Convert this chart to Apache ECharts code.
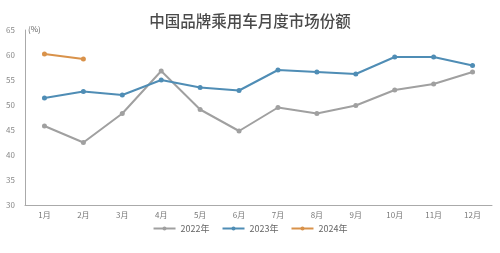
<!DOCTYPE html>
<html><head><meta charset="utf-8">
<script src="https://cdn.jsdelivr.net/npm/echarts@6/dist/echarts.min.js"></script>
<style>html,body{margin:0;padding:0;background:#fff}#c{width:500px;height:253px}</style>
</head><body><div id="c"></div>
<script>
const title = '中国品牌乘用车月度市场份额';
const months = ['1月','2月','3月','4月','5月','6月','7月','8月','9月','10月','11月','12月'];
const s2022 = [45.8,42.5,48.3,56.8,49.1,44.8,49.5,48.3,49.9,53.0,54.2,56.6];
const s2023 = [51.4,52.7,52.0,55.0,53.5,52.9,57.0,56.6,56.2,59.6,59.6,57.9];
const s2024 = [60.2,59.2];
const seriesNames = ['2022年','2023年','2024年'];
const colors = ['#a0a0a0','#4f8db5','#d9924a'];
const font = '"Noto Sans CJK SC", sans-serif';
const chart = echarts.init(document.getElementById('c'), null, {renderer:'canvas'});
const mk = (name, data, color) => ({
  name, type:'line', data, symbol:'circle', symbolSize:5,
  lineStyle:{width:2,color}, itemStyle:{color}, emphasis:{disabled:true}
});
chart.setOption({
  animation:false,
  title:{text:title,left:'center',top:8,textStyle:{fontFamily:font,fontSize:15.5,fontWeight:500,color:'#4a4a4a'}},
  grid:{left:25,right:8,top:30,bottom:48},
  legend:{bottom:15,left:'center',itemWidth:22,itemHeight:5,itemGap:12,
    textStyle:{fontFamily:font,fontSize:9,color:'#666'},data:seriesNames},
  xAxis:{type:'category',data:months,boundaryGap:true,
    axisLine:{lineStyle:{color:'#aaa',width:1}},axisTick:{show:false},
    axisLabel:{fontFamily:font,fontSize:8,color:'#777',margin:6}},
  yAxis:{type:'value',min:30,max:65,interval:5,name:'(%)',nameGap:1,
    nameTextStyle:{fontFamily:font,fontSize:8,color:'#666',align:'left',verticalAlign:'middle',padding:[0,0,0,3]},
    axisLine:{show:true,lineStyle:{color:'#aaa',width:1}},axisTick:{show:false},splitLine:{show:false},
    axisLabel:{fontFamily:font,fontSize:8,color:'#888',margin:10}},
  series:[mk(seriesNames[0],s2022,colors[0]),mk(seriesNames[1],s2023,colors[1]),mk(seriesNames[2],s2024,colors[2])]
});
</script></body></html>
